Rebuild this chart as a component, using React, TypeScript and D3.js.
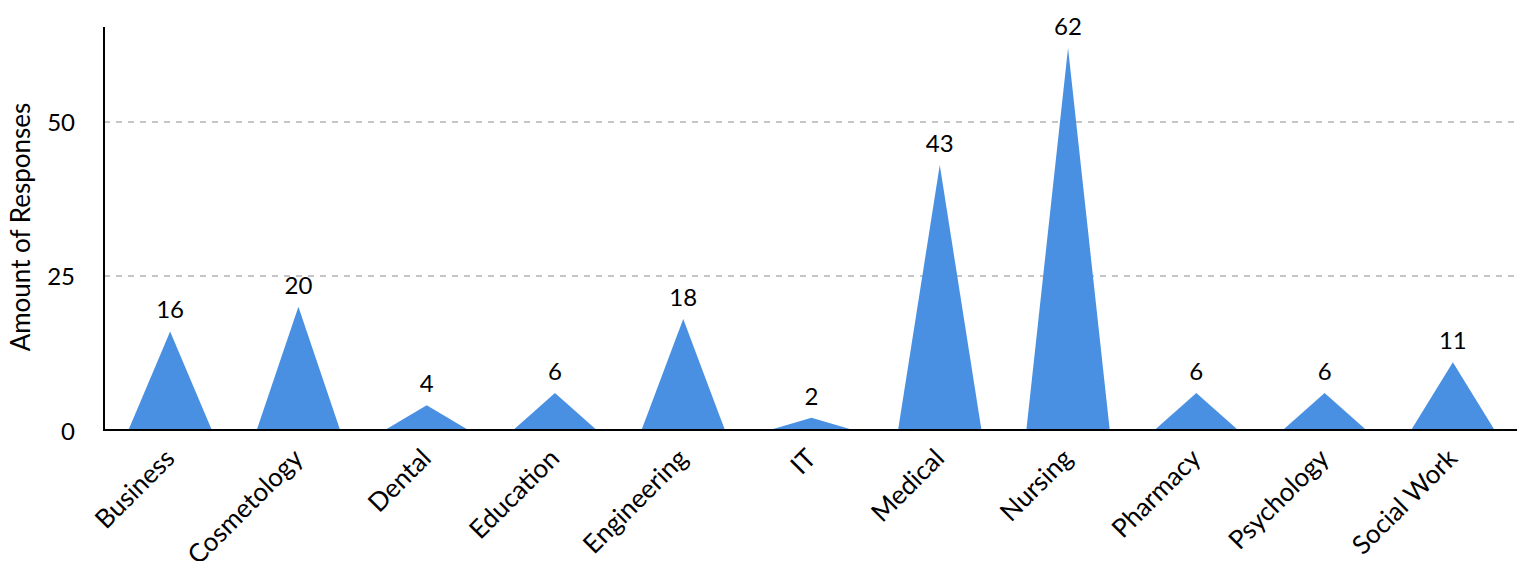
import React from "react";
import * as d3 from "d3";

const categories = ["Business", "Cosmetology", "Dental", "Education", "Engineering", "IT", "Medical", "Nursing", "Pharmacy", "Psychology", "Social Work"];
const values = [16, 20, 4, 6, 18, 2, 43, 62, 6, 6, 11];
const yTicks = [0, 25, 50];

const W = 1521, H = 561;
const left = 104, right = 1517, bottom = 430, top = 27;

export default function App() {
  const x = d3.scaleBand<string>().domain(categories).range([left + 2, right]).paddingInner(0).paddingOuter(0);
  const y = d3.scaleLinear().domain([0, 65.4]).range([bottom, top]);
  const triW = x.bandwidth() * 0.65;
  const font = "Lato, 'Open Sans', sans-serif";
  return (
    <svg width={W} height={H} style={{ position: "absolute", left: 0, top: 0 }} fontFamily={font}>
      {yTicks.filter(t => t > 0).map(t => (
        <line key={t} x1={left} x2={right} y1={y(t)} y2={y(t)} stroke="#b3b3b3" strokeWidth={1.5} strokeDasharray="6,6" />
      ))}
      {categories.map((c, i) => {
        const cx = x(c)! + x.bandwidth() / 2;
        const p = d3.path();
        p.moveTo(cx - triW / 2, y(0));
        p.lineTo(cx, y(values[i]));
        p.lineTo(cx + triW / 2, y(0));
        p.closePath();
        return (
          <g key={c}>
            <path d={p.toString()} fill="#4a90e2" />
            <text x={cx} y={y(values[i]) - 13} textAnchor="middle" fontSize={24} fill="#000">{values[i]}</text>
            <text transform={`translate(${cx + 6},${bottom + 30}) rotate(-45)`} textAnchor="end" fontSize={26} fill="#000">{c}</text>
          </g>
        );
      })}
      <line x1={left} x2={left} y1={top} y2={bottom + 1} stroke="#000" strokeWidth={2} />
      <line x1={left - 1} x2={right} y1={bottom} y2={bottom} stroke="#000" strokeWidth={2} />
      {yTicks.map(t => (
        <text key={t} x={75} y={y(t)} textAnchor="end" dominantBaseline="central" fontSize={24} fill="#000">{t}</text>
      ))}
      <text transform={`translate(30,${227}) rotate(-90)`} textAnchor="middle" fontSize={26} fill="#000">Amount of Responses</text>
    </svg>
  );
}
